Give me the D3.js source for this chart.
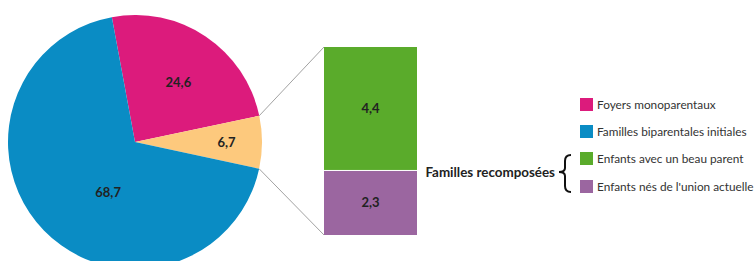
<!DOCTYPE html>
<html><head><meta charset="utf-8">
<script src="https://cdn.jsdelivr.net/npm/d3@7"></script>
<style>body{margin:0;background:#fff}svg{display:block}</style>
</head><body>
<svg id="c" width="754" height="261"></svg>
<script>
const pieCategories = ["Foyers monoparentaux", "Familles recomposées", "Familles biparentales initiales"];
const pieValues = [24.6, 6.7, 68.7];
const pieColors = ["#dc1b7c", "#fdc97d", "#0a8cc4"];
const barCategories = ["Enfants avec un beau parent", "Enfants nés de l'union actuelle"];
const barValues = [4.4, 2.3];
const barColors = ["#5aab2b", "#9b66a0"];
const legendLabels = ["Foyers monoparentaux", "Familles biparentales initiales", "Enfants avec un beau parent", "Enfants nés de l'union actuelle"];
const legendColors = ["#dc1b7c", "#0a8cc4", "#5aab2b", "#9b66a0"];
const groupLabel = "Familles recomposées";
const fmt = v => String(v).replace(".", ",");

const svg = d3.select("#c");
const font = "Lato, 'Open Sans', sans-serif";
const cx = 135, cy = 142, R = 127;
const startA = -10.5 * Math.PI / 180;

const pie = d3.pie().sort(null).value(d => d)
  .startAngle(startA).endAngle(startA + 2 * Math.PI);
const arcs = pie(pieValues);
const arc = d3.arc().innerRadius(0).outerRadius(R);
const g = svg.append("g").attr("transform", `translate(${cx},${cy})`);
g.selectAll("path").data(arcs).join("path")
  .attr("d", arc).attr("fill", (d, i) => pieColors[i]);

const labelR = [0.58, 0.72, 0.45];
const labelShift = [0.04, 0, -0.31];
g.selectAll("text").data(arcs).join("text")
  .attr("transform", (d, i) => {
    const ang = (d.startAngle + d.endAngle) / 2 + labelShift[i];
    const r = R * labelR[i];
    return `translate(${Math.sin(ang) * r},${-Math.cos(ang) * r})`;
  })
  .attr("text-anchor", "middle").attr("dy", "0.35em")
  .attr("font-family", font).attr("font-weight", "bold").attr("font-size", 13)
  .attr("fill", "#222").text(d => fmt(d.data));

// stacked bar
const barX = 324, barW = 93, barTop = 47, barBottom = 235;
const total = d3.sum(barValues);
const y = d3.scaleLinear().domain([0, total]).range([barTop, barBottom]);
let acc = 0;
const stack = barValues.map(v => { const s = acc; acc += v; return [s, acc]; });
svg.selectAll("rect.bar").data(stack).join("rect").attr("class", "bar")
  .attr("x", barX).attr("width", barW)
  .attr("y", d => y(d[0])).attr("height", d => y(d[1]) - y(d[0]))
  .attr("fill", (d, i) => barColors[i]);
svg.append("line").attr("x1", barX).attr("x2", barX + barW)
  .attr("y1", y(stack[0][1])).attr("y2", y(stack[0][1])).attr("stroke", "#fff").attr("stroke-width", 1);
svg.selectAll("text.bl").data(stack).join("text").attr("class", "bl")
  .attr("x", barX + barW / 2).attr("y", d => (y(d[0]) + y(d[1])) / 2)
  .attr("dy", "0.35em").attr("text-anchor", "middle")
  .attr("font-family", font).attr("font-weight", "bold").attr("font-size", 13)
  .attr("fill", "#222").text((d, i) => fmt(barValues[i]));

// connector lines
const orange = arcs[1];
const p1 = [cx + Math.sin(orange.startAngle) * R, cy - Math.cos(orange.startAngle) * R];
const p2 = [cx + Math.sin(orange.endAngle) * R, cy - Math.cos(orange.endAngle) * R];
svg.append("line").attr("x1", p1[0]).attr("y1", p1[1]).attr("x2", barX).attr("y2", barTop)
  .attr("stroke", "#8a8a8a").attr("stroke-width", 0.8);
svg.append("line").attr("x1", p2[0]).attr("y1", p2[1]).attr("x2", barX).attr("y2", barBottom)
  .attr("stroke", "#8a8a8a").attr("stroke-width", 0.8);

// legend
const legY = [105, 132, 159, 187];
const lg = svg.append("g");
legendLabels.forEach((t, i) => {
  lg.append("rect").attr("x", 580).attr("y", legY[i] - 7).attr("width", 13).attr("height", 13)
    .attr("fill", legendColors[i]);
  lg.append("text").attr("x", 597).attr("y", legY[i]).attr("dy", "0.35em")
    .attr("font-family", font).attr("font-size", 11.8).attr("fill", "#333").text(t);
});
svg.append("text").attr("x", 555).attr("y", 172).attr("dy", "0.35em").attr("text-anchor", "end")
  .attr("font-family", font).attr("font-weight", "bold").attr("font-size", 13.4).attr("fill", "#222")
  .text(groupLabel);
// brace
const bx = 571, bt = 155, bb = 192, bm = 172;
svg.append("path")
  .attr("d", `M${bx},${bt} Q${bx-6},${bt} ${bx-6},${bt+6} L${bx-6},${bm-4} Q${bx-6},${bm} ${bx-12},${bm} Q${bx-6},${bm} ${bx-6},${bm+4} L${bx-6},${bb-6} Q${bx-6},${bb} ${bx},${bb}`)
  .attr("fill", "none").attr("stroke", "#111").attr("stroke-width", 2);
</script>
</body></html>
